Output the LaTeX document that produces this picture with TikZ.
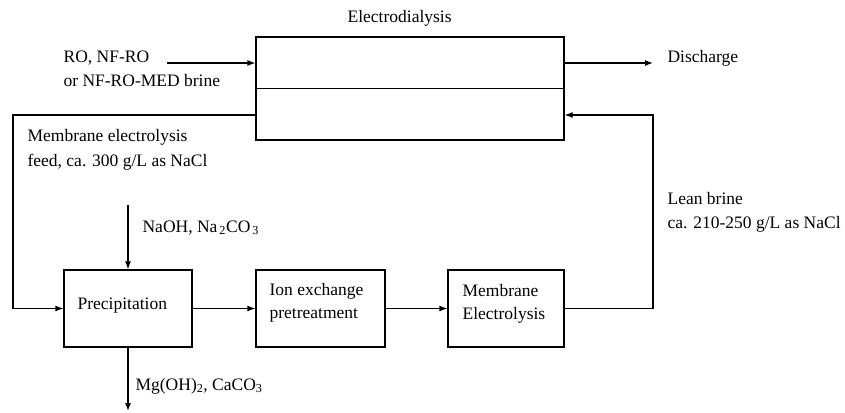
\documentclass[tikz,border=0pt]{standalone}
\usepackage{fontspec}
\setmainfont{Liberation Serif}
\usetikzlibrary{arrows.meta}
\begin{document}
\begin{tikzpicture}[x=1pt,y=-1pt,
  line width=1.2pt,
  flow/.style={-{Latex[length=8pt,width=6pt]}},
  unit/.style={draw,rectangle,inner sep=0pt},
  lbl/.style={anchor=base west,inner sep=0pt,font=\fontsize{17.5}{24}\selectfont},
  lbl2/.style={anchor=base west,inner sep=0pt,align=left,font=\fontsize{17.5}{24}\selectfont}]
\useasboundingbox (0,0) rectangle (845,412);
% units
\node[unit,minimum width=308pt,minimum height=103pt] (ed) at (410,88.5) {};
\node[unit,minimum width=128pt,minimum height=77pt] (prec) at (128,308.5) {};
\node[unit,minimum width=129pt,minimum height=77pt] (ion) at (320.5,308.5) {};
\node[unit,minimum width=116pt,minimum height=77pt] (me) at (506,308.5) {};
\draw (ed.west) -- (ed.east);
% texts
\node[lbl] (edt) at (347,23) {Electrodialysis};
\node[lbl] (pt) at (77,309) {Precipitation};
\node[lbl] (it1) at (269,295.5) {Ion exchange};
\node[lbl] (it2) at (269,318) {pretreatment};
\node[lbl] (mt1) at (462,296.5) {Membrane};
\node[lbl] (mt2) at (462,319) {Electrolysis};
\node[lbl] (ro1) at (63,63) {RO, NF-RO};
\node[lbl] (ro2) at (63,86) {or NF-RO-MED brine};
\node[lbl] (dis) at (667,63) {Discharge};
\node[lbl] (mf1) at (27,141) {Membrane electrolysis};
\node[lbl] (mf2) at (27,166) {feed, ca. 300 g/L as NaCl};
\node[lbl] (lb1) at (667,204) {Lean brine};
\node[lbl] (lb2) at (667,228) {ca. 210-250 g/L as NaCl};
\node[lbl] (naoh) at (142,232) {NaOH, Na\textsubscript{\,2}CO\textsubscript{\,3}};
\node[lbl] (mg) at (135,390) {Mg(OH)\textsubscript{2}, CaCO\textsubscript{3}};
% free ends
\coordinate (inS) at (167,63);
\coordinate (disE) at (653,63);
\coordinate (naS) at (128,205);
\coordinate (mgE) at (128,411);
\coordinate (fL) at (13,115);
\coordinate (rR) at (653,115);
% connectors
\draw[flow] (inS) -- (inS -| ed.west);
\draw[flow] (disE -| ed.east) -- (disE);
\draw[flow] (naS) -- (prec.north);
\draw[flow] (prec.south) -- (mgE);
\draw[flow] (fL -| ed.west) -- (fL) |- (prec.west);
\draw[flow] (prec.east) -- (ion.west);
\draw[flow] (ion.east) -- (me.west);
\draw[flow] (me.east) -| (rR) -- (rR -| ed.east);
\end{tikzpicture}
\end{document}
